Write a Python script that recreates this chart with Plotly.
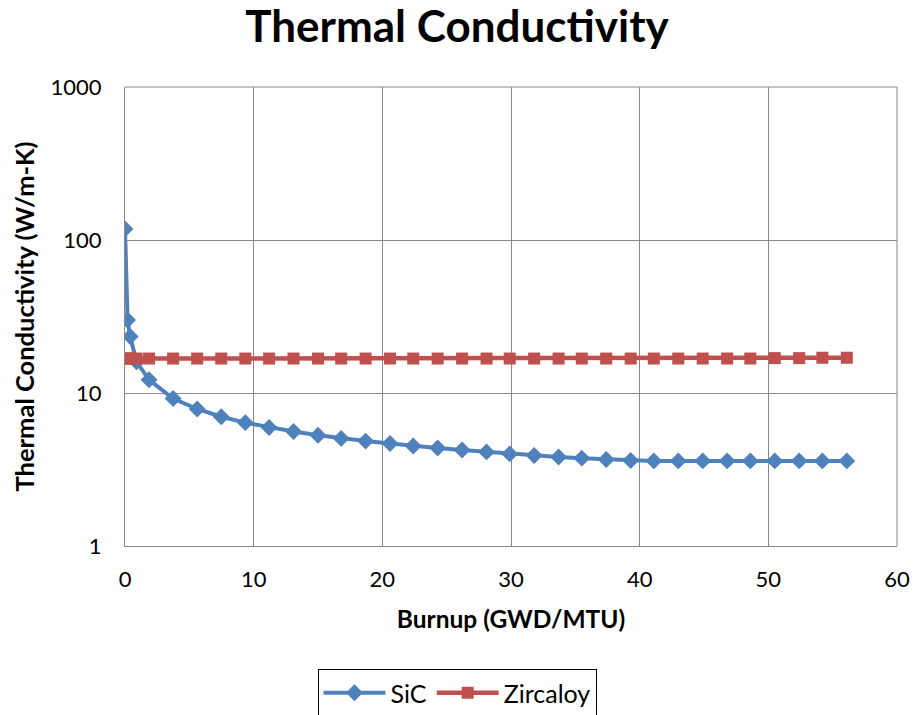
import plotly.graph_objects as go

# Data
sic_burnup = [0, 0.2, 0.4, 0.9, 1.87, 3.74, 5.61, 7.48, 9.35, 11.2, 13.1, 15.0, 16.8, 18.7,
              20.6, 22.4, 24.3, 26.2, 28.1, 29.9, 31.8, 33.7, 35.5, 37.4, 39.3, 41.1,
              43.0, 44.9, 46.8, 48.6, 50.5, 52.4, 54.2, 56.1]
sic_k = [118, 30, 23.4, 16.0, 12.2, 9.2, 7.86, 7.0, 6.4, 5.95, 5.6, 5.3, 5.05, 4.85,
         4.68, 4.5, 4.37, 4.24, 4.12, 4.0, 3.9, 3.82, 3.75, 3.68, 3.62, 3.6,
         3.6, 3.6, 3.6, 3.6, 3.6, 3.6, 3.6, 3.6]
zirc_burnup = sic_burnup
zirc_k = [16.8] * 30 + [16.9, 16.9, 17.0, 17.0]

y_tickvals = [1, 10, 100, 1000]
y_ticktext = ["1", "10", "100", "1000"]
x_tickvals = [0, 10, 20, 30, 40, 50, 60]

FONT = "Lato, 'Open Sans', sans-serif"
GRID = "#888888"

fig = go.Figure()
fig.add_trace(go.Scatter(x=sic_burnup, y=sic_k, name="SiC", mode="lines+markers",
                         line=dict(color="#4F81BD", width=4),
                         marker=dict(symbol="diamond", size=13, color="#4F81BD")))
fig.add_trace(go.Scatter(x=zirc_burnup, y=zirc_k, name="Zircaloy", mode="lines+markers",
                         line=dict(color="#C0504D", width=4.5),
                         marker=dict(symbol="square", size=12, color="#C0504D")))

fig.update_layout(
    width=914, height=715,
    paper_bgcolor="white", plot_bgcolor="white",
    margin=dict(l=125, r=17, t=87, b=169, autoexpand=False),
    font=dict(family=FONT, color="black", size=22),
    title=dict(text="<b>Thermal Conductivity</b>", x=0.5, xanchor="center",
               y=1 - 27 / 715, yanchor="middle", font=dict(size=44, family=FONT)),
    xaxis=dict(range=[0, 60], tickvals=x_tickvals, showgrid=True, gridcolor=GRID,
               gridwidth=1, showline=True, linecolor=GRID, zeroline=False,
               ticks="", tickfont=dict(size=22), ticklabelstandoff=14, automargin=False,
               title=dict(text="<b>Burnup (GWD/MTU)</b>", font=dict(size=24.5), standoff=19)),
    yaxis=dict(type="log", range=[0, 3], tickvals=y_tickvals, ticktext=y_ticktext,
               showgrid=True, gridcolor=GRID, gridwidth=1, showline=True, linecolor=GRID,
               zeroline=False, ticks="", tickfont=dict(size=22), ticklabelstandoff=18,
               automargin=False,
               title=dict(text="<b>Thermal Conductivity (W/m-K)</b>", font=dict(size=25.5),
                          standoff=8)),
    legend=dict(orientation="h", xref="container", x=0.5, xanchor="center",
                y=-(669 - 546) / 459, yanchor="top",
                bordercolor="black", borderwidth=1, font=dict(size=25),
                itemwidth=62),
    showlegend=True,
)
fig.add_shape(type="line", xref="paper", yref="paper", x0=1, x1=1, y0=0, y1=1,
              line=dict(color=GRID, width=1))
fig.add_shape(type="line", xref="paper", yref="paper", x0=0, x1=1, y0=1, y1=1,
              line=dict(color=GRID, width=1))

fig.write_html("out.html", config={"displayModeBar": False},
               post_script="document.body.style.margin='0';")
